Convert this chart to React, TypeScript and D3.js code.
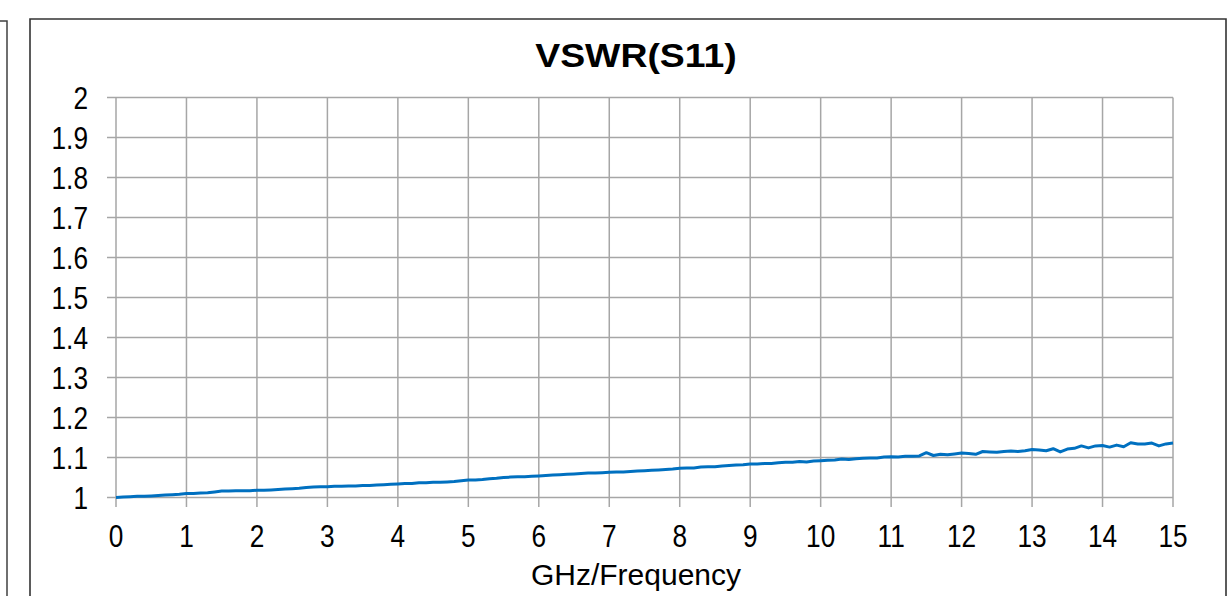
import React from "react";
import * as d3 from "d3";

// frequency (GHz) sampled every 0.1 GHz
const freqStart = 0;
const freqStep = 0.1;
const vswr = [
	1.000, 1.001, 1.002, 1.003, 1.003, 1.004, 1.005, 1.006, 1.007, 1.008,
	1.010, 1.010, 1.011, 1.012, 1.014, 1.016, 1.016, 1.017, 1.017, 1.017,
	1.018, 1.018, 1.019, 1.020, 1.021, 1.022, 1.023, 1.025, 1.026, 1.027,
	1.027, 1.028, 1.028, 1.029, 1.029, 1.030, 1.030, 1.031, 1.032, 1.033,
	1.034, 1.035, 1.035, 1.037, 1.037, 1.038, 1.038, 1.039, 1.040, 1.042,
	1.044, 1.044, 1.045, 1.047, 1.048, 1.050, 1.051, 1.052, 1.052, 1.053,
	1.054, 1.055, 1.056, 1.057, 1.058, 1.059, 1.060, 1.061, 1.061, 1.062,
	1.063, 1.064, 1.064, 1.065, 1.066, 1.067, 1.068, 1.069, 1.070, 1.071,
	1.073, 1.074, 1.074, 1.076, 1.077, 1.077, 1.079, 1.080, 1.081, 1.082,
	1.084, 1.084, 1.085, 1.085, 1.087, 1.088, 1.088, 1.090, 1.089, 1.091,
	1.092, 1.093, 1.094, 1.096, 1.095, 1.097, 1.098, 1.099, 1.099, 1.101,
	1.102, 1.101, 1.103, 1.103, 1.104, 1.112, 1.105, 1.108, 1.107, 1.109,
	1.111, 1.110, 1.108, 1.115, 1.114, 1.113, 1.115, 1.116, 1.115, 1.117,
	1.120, 1.119, 1.117, 1.122, 1.114, 1.121, 1.123, 1.129, 1.124, 1.129,
	1.130, 1.126, 1.131, 1.127, 1.137, 1.134, 1.134, 1.136, 1.129, 1.134,
	1.136,
];

const xTicks = d3.range(0, 16, 1);
const yTicks = [1, 1.1, 1.2, 1.3, 1.4, 1.5, 1.6, 1.7, 1.8, 1.9, 2];
const title = "VSWR(S11)";
const xTitle = "GHz/Frequency";

const W = 1231;
const H = 596;
const font = "'Liberation Sans', Arial, sans-serif";
const narrow = 0.82; // no narrow font installed, squeeze tick labels instead

export default function App() {
	const x = d3.scaleLinear().domain([0, 15]).range([116, 1173]);
	const y = d3.scaleLinear().domain([1, 2]).range([497.5, 97.5]);

	const points = vswr.map((v, i) => [freqStart + i * freqStep, v] as [number, number]);
	const line = d3
		.line<[number, number]>()
		.x((d) => x(d[0]))
		.y((d) => y(d[1]));

	const grid = "#a6a6a6";

	return (
		<svg
			width={W}
			height={H}
			style={{ position: "absolute", left: 0, top: 0, background: "#fff" }}
		>
			{/* neighbouring chart frame edge */}
			<path d="M0,21H7V600" fill="none" stroke="#404040" strokeWidth={1.5} />
			{/* chart frame */}
			<path d="M30,600V19H1226V600" fill="none" stroke="#333" strokeWidth={1.6} />

			<text
				transform="translate(636,67) scale(1.1,1)"
				textAnchor="middle"
				fontFamily={font}
				fontWeight="bold"
				fontSize={34}
				fill="#000"
			>
				{title}
			</text>

			{yTicks.map((t) => (
				<g key={"y" + t}>
					<line x1={107} x2={x(15)} y1={y(t)} y2={y(t)} stroke={grid} strokeWidth={1.5} />
					<text
						transform={`translate(88,${y(t)}) scale(${narrow},1)`}
						dy="0.36em"
						textAnchor="end"
						fontFamily={font}
						fontSize={32}
						fill="#000"
					>
						{d3.format("")(+t.toFixed(1))}
					</text>
				</g>
			))}

			{xTicks.map((t) => (
				<g key={"x" + t}>
					<line x1={x(t)} x2={x(t)} y1={y(2)} y2={507} stroke={grid} strokeWidth={1.5} />
					<text
						transform={`translate(${x(t)},547) scale(${narrow},1)`}
						textAnchor="middle"
						fontFamily={font}
						fontSize={32}
						fill="#000"
					>
						{t}
					</text>
				</g>
			))}

			<path d={line(points) ?? ""} fill="none" stroke="#0070c0" strokeWidth={3} strokeLinejoin="round" />

			<text
				x={636}
				y={585}
				textAnchor="middle"
				fontFamily={font}
				fontSize={30}
				fill="#000"
			>
				{xTitle}
			</text>
		</svg>
	);
}
